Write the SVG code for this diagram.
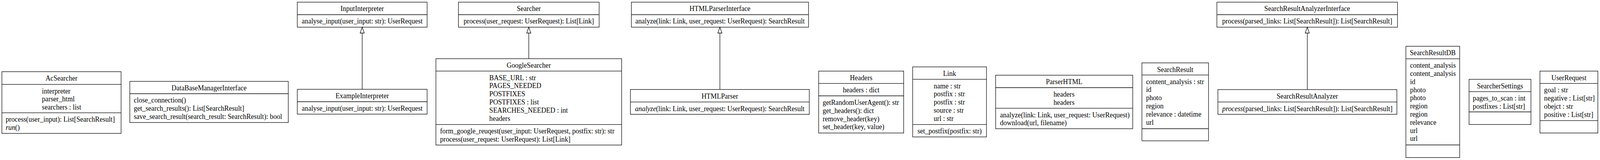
<svg xmlns="http://www.w3.org/2000/svg" width="4264" height="409" viewBox="0 0 4264 409">
<style>
.bg{fill:#fff}
.box{fill:#fff;stroke:#000;stroke-width:1.3}
.sep{stroke:#000;stroke-width:1.3}
text{font-family:"Liberation Serif","Times New Roman",serif;font-size:18.3px;fill:#000}
.c{text-anchor:middle}
.i{font-style:italic}
.edge{stroke:#000;stroke-width:1.3;fill:none}
</style>
<defs>
<marker id="inh" markerUnits="userSpaceOnUse" viewBox="0 0 16 12" markerWidth="16" markerHeight="12" refX="15.5" refY="6" orient="auto" overflow="visible">
<path d="M0.5,0.5 L15.5,6 L0.5,11.5 Z" fill="#fff" stroke="#000" stroke-width="1.3"/>
</marker>
</defs>
<rect class="bg" x="0" y="0" width="4264" height="409"/>
<g id="diagram" transform="scale(0.9606 1)">

<g id="AcSearcher">
<rect class="box" x="5" y="183.3" width="317.7" height="157.7"/>
<line class="sep" x1="5" y1="215.7" x2="322.7" y2="215.7"/>
<line class="sep" x1="5" y1="288.3" x2="322.7" y2="288.3"/>
<text class="c" x="163.85" y="206.3">AcSearcher</text>
<text x="111.7" y="238.7">interpreter</text>
<text x="111.7" y="259.5">parser_html</text>
<text x="111.7" y="280.3">searchers : list</text>
<text x="15" y="311.3">process(user_input): List[SearchResult]</text>
<text x="15" y="332.1"><tspan class="i">run</tspan>()</text>
</g>

<g id="DataBaseManagerInterface">
<rect class="box" x="346" y="208" width="422.3" height="105.2"/>
<line class="sep" x1="346" y1="239.5" x2="768.3" y2="239.5"/>
<text class="c" x="557.15" y="231">DataBaseManagerInterface</text>
<text x="356.5" y="262.5">close_connection()</text>
<text x="356.5" y="283.3">get_search_results(): List[SearchResult]</text>
<text x="356.5" y="304.1">save_search_result(search_result: SearchResult): bool</text>
</g>

<g id="InputInterpreter">
<rect class="box" x="792.3" y="5.5" width="346" height="64"/>
<line class="sep" x1="792.3" y1="37.5" x2="1138.3" y2="37.5"/>
<text class="c" x="965.3" y="28.5">InputInterpreter</text>
<text class="c" x="965.3" y="60.5">analyse_input(user_input: str): UserRequest</text>
</g>

<g id="ExampleInterpreter">
<rect class="box" x="792.3" y="228.3" width="346" height="63.4"/>
<line class="sep" x1="792.3" y1="260" x2="1138.3" y2="260"/>
<text class="c" x="965.3" y="251.3">ExampleInterpreter</text>
<text class="c" x="965.3" y="283">analyse_input(user_input: str): UserRequest</text>
</g>

<g id="Searcher">
<rect class="box" x="1221.7" y="5.5" width="375" height="64"/>
<line class="sep" x1="1221.7" y1="37.5" x2="1596.7" y2="37.5"/>
<text class="c" x="1409.2" y="28.5">Searcher</text>
<text class="c" x="1409.2" y="60.5">process(user_request: UserRequest): List[Link]</text>
</g>

<g id="GoogleSearcher">
<rect class="box" x="1161.7" y="150" width="495" height="220.7"/>
<line class="sep" x1="1161.7" y1="181.7" x2="1656.7" y2="181.7"/>
<line class="sep" x1="1161.7" y1="318.3" x2="1656.7" y2="318.3"/>
<text class="c" x="1409.2" y="173">GoogleSearcher</text>
<text x="1304" y="204.7">BASE_URL : str</text>
<text x="1304" y="225.5">PAGES_NEEDED</text>
<text x="1304" y="246.3">POSTFIXES</text>
<text x="1304" y="267.1">POSTFIXES : list</text>
<text x="1304" y="287.9">SEARCHES_NEEDED : int</text>
<text x="1304" y="308.7">headers</text>
<text x="1172.7" y="341.3">form_google_reuqest(user_input: UserRequest, postfix: str): str</text>
<text x="1172.7" y="362.1">process(user_request: UserRequest): List[Link]</text>
</g>

<g id="HTMLParserInterface">
<rect class="box" x="1682.7" y="5.5" width="472" height="64"/>
<line class="sep" x1="1682.7" y1="37.5" x2="2154.7" y2="37.5"/>
<text class="c" x="1918.7" y="28.5">HTMLParserInterface</text>
<text class="c" x="1918.7" y="60.5">analyze(link: Link, user_request: UserRequest): SearchResult</text>
</g>

<g id="HTMLParser">
<rect class="box" x="1680" y="228.7" width="476.7" height="63.6"/>
<line class="sep" x1="1680" y1="260.7" x2="2156.7" y2="260.7"/>
<text class="c" x="1918.35" y="251.7">HTMLParser</text>
<text class="c" x="1918.35" y="283.7"><tspan class="i">analyze</tspan>(link: Link, user_request: UserRequest): SearchResult</text>
</g>

<g id="Headers">
<rect class="box" x="2181.7" y="181.7" width="226.6" height="158.3"/>
<line class="sep" x1="2181.7" y1="213.3" x2="2408.3" y2="213.3"/>
<line class="sep" x1="2181.7" y1="245" x2="2408.3" y2="245"/>
<text class="c" x="2295" y="204.7">Headers</text>
<text class="c" x="2295" y="236.3">headers : dict</text>
<text x="2192.3" y="268">getRandomUserAgent(): str</text>
<text x="2192.3" y="288.8">get_headers(): dict</text>
<text x="2192.3" y="309.6">remove_header(key)</text>
<text x="2192.3" y="330.4">set_header(key, value)</text>
</g>

<g id="Link">
<rect class="box" x="2432.3" y="171" width="196.7" height="179"/>
<line class="sep" x1="2432.3" y1="202.7" x2="2629" y2="202.7"/>
<line class="sep" x1="2432.3" y1="318.3" x2="2629" y2="318.3"/>
<text class="c" x="2530.65" y="194">Link</text>
<text x="2488.3" y="225.7">name : str</text>
<text x="2488.3" y="246.5">postfix : str</text>
<text x="2488.3" y="267.3">postfix : str</text>
<text x="2488.3" y="288.1">source : str</text>
<text x="2488.3" y="308.9">url : str</text>
<text class="c" x="2530.65" y="341.3">set_postfix(postfix: str)</text>
</g>

<g id="ParserHTML">
<rect class="box" x="2653.3" y="192.3" width="365.4" height="136.7"/>
<line class="sep" x1="2653.3" y1="224" x2="3018.7" y2="224"/>
<line class="sep" x1="2653.3" y1="276.7" x2="3018.7" y2="276.7"/>
<text class="c" x="2836" y="215.3">ParserHTML</text>
<text x="2807.7" y="247">headers</text>
<text x="2807.7" y="267.8">headers</text>
<text x="2665" y="299.7">analyze(link: Link, user_request: UserRequest)</text>
<text x="2665" y="320.5">download(url, filename)</text>
</g>

<g id="SearchResult">
<rect class="box" x="3043.3" y="160.7" width="177.4" height="199.3"/>
<line class="sep" x1="3043.3" y1="191.7" x2="3220.7" y2="191.7"/>
<line class="sep" x1="3043.3" y1="329" x2="3220.7" y2="329"/>
<text class="c" x="3132" y="183.7">SearchResult</text>
<text x="3054.3" y="214.7">content_analysis : str</text>
<text x="3054.3" y="235.5">id</text>
<text x="3054.3" y="256.3">photo</text>
<text x="3054.3" y="277.1">region</text>
<text x="3054.3" y="297.9">relevance : datetime</text>
<text x="3054.3" y="318.7">url</text>
</g>

<g id="SearchResultAnalyzerInterface">
<rect class="box" x="3243" y="5.5" width="481.3" height="64"/>
<line class="sep" x1="3243" y1="37.5" x2="3724.3" y2="37.5"/>
<text class="c" x="3483.65" y="28.5">SearchResultAnalyzerInterface</text>
<text class="c" x="3483.65" y="60.5">process(parsed_links: List[SearchResult]): List[SearchResult]</text>
</g>

<g id="SearchResultAnalyzer">
<rect class="box" x="3245.7" y="229" width="477" height="63.3"/>
<line class="sep" x1="3245.7" y1="260.7" x2="3722.7" y2="260.7"/>
<text class="c" x="3484.2" y="252">SearchResultAnalyzer</text>
<text class="c" x="3484.2" y="283.7"><tspan class="i">process</tspan>(parsed_links: List[SearchResult]): List[SearchResult]</text>
</g>

<g id="SearchResultDB">
<rect class="box" x="3746.7" y="118.3" width="143.3" height="284.4"/>
<line class="sep" x1="3746.7" y1="150.3" x2="3890" y2="150.3"/>
<line class="sep" x1="3746.7" y1="370.5" x2="3890" y2="370.5"/>
<text class="c" x="3818.35" y="141.3">SearchResultDB</text>
<text x="3757.7" y="173.3">content_analysis</text>
<text x="3757.7" y="194.1">content_analysis</text>
<text x="3757.7" y="214.9">id</text>
<text x="3757.7" y="235.7">photo</text>
<text x="3757.7" y="256.5">photo</text>
<text x="3757.7" y="277.3">region</text>
<text x="3757.7" y="298.1">region</text>
<text x="3757.7" y="318.9">relevance</text>
<text x="3757.7" y="339.7">url</text>
<text x="3757.7" y="360.5">url</text>
</g>

<g id="SearcherSettings">
<rect class="box" x="3915" y="202.7" width="165" height="115.6"/>
<line class="sep" x1="3915" y1="234.3" x2="4080" y2="234.3"/>
<line class="sep" x1="3915" y1="286" x2="4080" y2="286"/>
<text class="c" x="3997.5" y="225.7">SearcherSettings</text>
<text x="3925" y="257.3">pages_to_scan : int</text>
<text x="3925" y="278.1">postfixes : List[str]</text>
</g>

<g id="UserRequest">
<rect class="box" x="4104" y="181.7" width="154.3" height="158.3"/>
<line class="sep" x1="4104" y1="213.3" x2="4258.3" y2="213.3"/>
<line class="sep" x1="4104" y1="308.3" x2="4258.3" y2="308.3"/>
<text class="c" x="4181.15" y="204.7">UserRequest</text>
<text x="4115" y="236.3">goal : str</text>
<text x="4115" y="257.1">negative : List[str]</text>
<text x="4115" y="277.9">obejct : str</text>
<text x="4115" y="298.7">positive : List[str]</text>
</g>

<g id="connectors">
<line class="edge" x1="965.3" y1="228.3" x2="965.3" y2="69.5" marker-end="url(#inh)"/>
<line class="edge" x1="1409.2" y1="150" x2="1409.2" y2="69.5" marker-end="url(#inh)"/>
<line class="edge" x1="1918.5" y1="228.7" x2="1918.5" y2="69.5" marker-end="url(#inh)"/>
<line class="edge" x1="3483.9" y1="229" x2="3483.9" y2="69.5" marker-end="url(#inh)"/>
</g>
</g>
</svg>
